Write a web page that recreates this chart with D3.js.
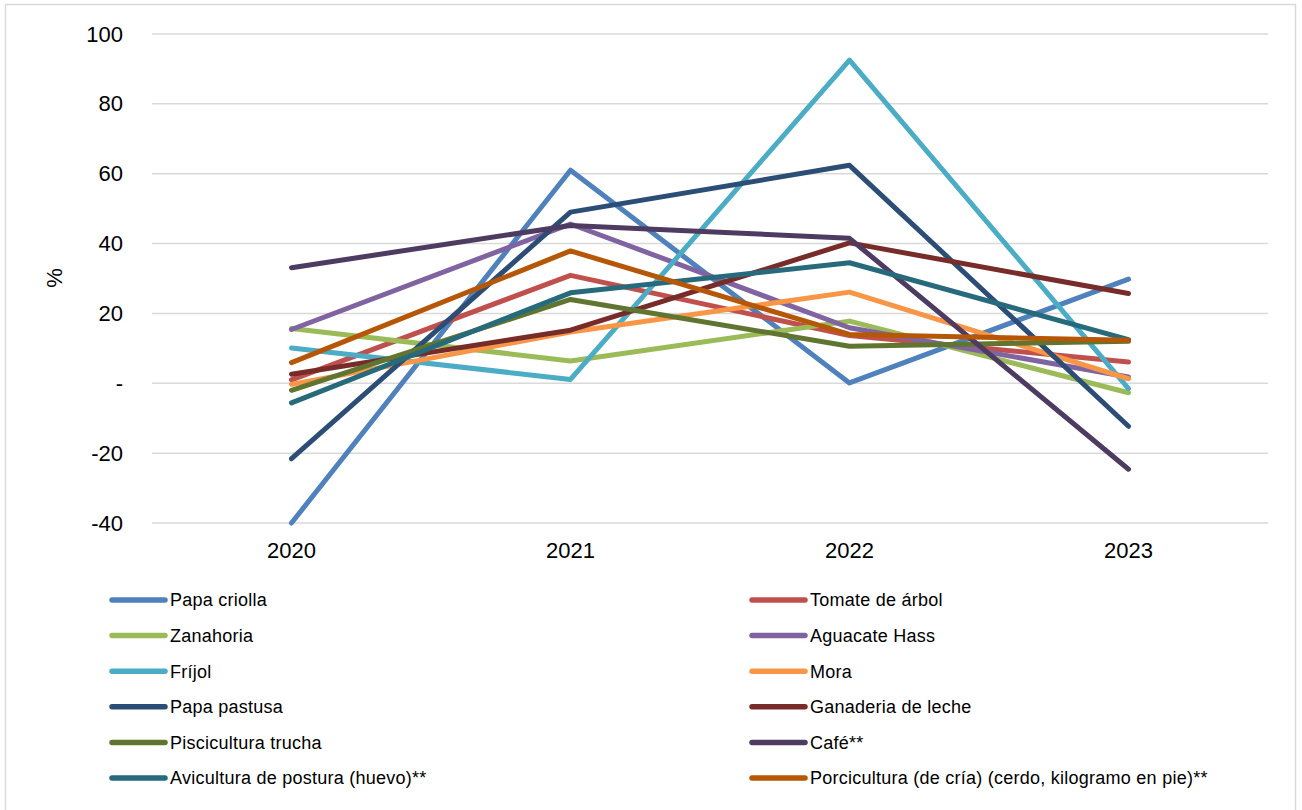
<!DOCTYPE html>
<meta charset="utf-8">
<title>Variación %</title>
<style>
  body { margin: 0; background: #fff; font-family: "Liberation Sans", Arial, sans-serif; }
  svg { display: block; }
</style>
<svg id="chart" width="1302" height="810"></svg>
<script src="https://cdn.jsdelivr.net/npm/d3@7"></script>
<script>
// data
var years = ["2020", "2021", "2022", "2023"];
var names = ["Papa criolla", "Tomate de árbol", "Zanahoria", "Aguacate Hass", "Fríjol", "Mora",
             "Papa pastusa", "Ganaderia de leche", "Piscicultura trucha", "Café**",
             "Avicultura de postura (huevo)**", "Porcicultura (de cría) (cerdo, kilogramo en pie)**"];
var colors = ["#4F81BD", "#C0504D", "#9BBB59", "#8064A2", "#4BACC6", "#F79646",
              "#2C4D75", "#772C2A", "#5F7530", "#4D3B62", "#276A7C", "#B65708"];
var papaCriolla   = [-40.0, 61.0, 0.1, 29.8];
var tomate        = [1.0, 30.9, 13.7, 6.1];
var zanahoria     = [15.7, 6.4, 17.8, -2.7];
var aguacate      = [15.4, 45.6, 15.9, 1.8];
var frijol        = [10.1, 1.1, 92.5, -1.5];
var mora          = [-0.3, 14.7, 26.1, 1.3];
var papaPastusa   = [-21.6, 49.0, 62.4, -12.3];
var ganaderia     = [2.6, 15.2, 40.2, 25.7];
var piscicultura  = [-2.0, 24.0, 10.6, 12.0];
var cafe          = [33.1, 45.2, 41.5, -24.6];
var avicultura    = [-5.6, 25.9, 34.5, 12.5];
var porcicultura  = [5.9, 37.9, 14.0, 12.3];
var series = [papaCriolla, tomate, zanahoria, aguacate, frijol, mora,
              papaPastusa, ganaderia, piscicultura, cafe, avicultura, porcicultura];
var yTicks = [-40, -20, 0, 20, 40, 60, 80, 100];

var svg = d3.select("#chart");

// outer frame
svg.append("rect")
  .attr("x", 5.5).attr("y", 4.5)
  .attr("width", 1290).attr("height", 820)
  .attr("fill", "#fff").attr("stroke", "#d9d9d9").attr("stroke-width", 1.5);

var plot = {left: 152, right: 1268, top: 34, bottom: 523};

var x = d3.scaleBand().domain(years).range([plot.left, plot.right]);
var y = d3.scaleLinear().domain([-40, 100]).range([plot.bottom, plot.top]);

// gridlines
svg.append("g")
  .selectAll("line")
  .data(yTicks)
  .join("line")
  .attr("x1", plot.left).attr("x2", plot.right)
  .attr("y1", function(d) { return y(d); })
  .attr("y2", function(d) { return y(d); })
  .attr("stroke", "#d9d9d9").attr("stroke-width", 1.5);

// y axis labels
var yAxis = d3.axisLeft(y)
  .tickValues(yTicks)
  .tickSize(0)
  .tickPadding(29)
  .tickFormat(function(d) { return d === 0 ? "-" : d; });
svg.append("g")
  .attr("transform", "translate(" + plot.left + ",0)")
  .call(yAxis)
  .call(function(g) { g.select(".domain").remove(); })
  .selectAll("text")
  .attr("font-family", "Liberation Sans, Arial, sans-serif")
  .attr("font-size", 22)
  .attr("fill", "#000");

// x axis labels
var xAxis = d3.axisBottom(x).tickSize(0).tickPadding(19);
svg.append("g")
  .attr("transform", "translate(0," + plot.bottom + ")")
  .call(xAxis)
  .call(function(g) { g.select(".domain").remove(); })
  .selectAll("text")
  .attr("font-family", "Liberation Sans, Arial, sans-serif")
  .attr("font-size", 22)
  .attr("fill", "#000");

// y title
svg.append("text")
  .attr("transform", "translate(62,278) rotate(-90)")
  .attr("text-anchor", "middle")
  .attr("font-size", 22)
  .text("%");

// lines
var line = d3.line()
  .x(function(d, i) { return x(years[i]) + x.bandwidth() / 2; })
  .y(function(d) { return y(d); });

svg.append("g")
  .selectAll("path")
  .data(series)
  .join("path")
  .attr("d", line)
  .attr("fill", "none")
  .attr("stroke", function(d, i) { return colors[i]; })
  .attr("stroke-width", 5)
  .attr("stroke-linejoin", "round")
  .attr("stroke-linecap", "round");

// legend: two columns, six rows
var legend = svg.append("g")
  .selectAll("g")
  .data(names)
  .join("g")
  .attr("transform", function(d, i) {
    var col = i % 2, row = Math.floor(i / 2);
    return "translate(" + (col === 0 ? 112 : 752) + "," + (600 + row * 35.6) + ")";
  });

legend.append("line")
  .attr("x1", 0).attr("x2", 53)
  .attr("stroke", function(d, i) { return colors[i]; })
  .attr("stroke-width", 5.5)
  .attr("stroke-linecap", "round");

legend.append("text")
  .attr("x", 58)
  .attr("dy", "0.35em")
  .attr("font-size", 18)
  .attr("letter-spacing", 0.25)
  .attr("fill", "#000")
  .text(function(d) { return d; });
</script>
